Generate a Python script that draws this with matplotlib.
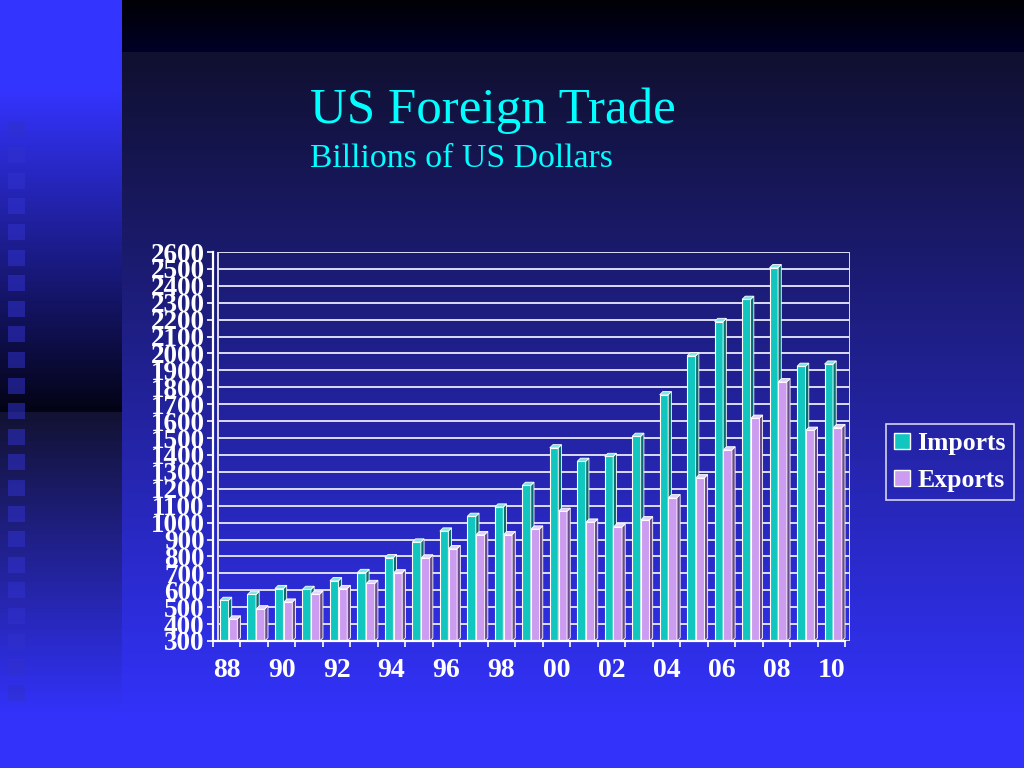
import numpy as np
import matplotlib
matplotlib.use("Agg")
import matplotlib.pyplot as plt
from matplotlib.patches import Polygon
from matplotlib.lines import Line2D

# ---------------- data ----------------
years = ["88", "89", "90", "91", "92", "93", "94", "95", "96", "97", "98", "99",
         "00", "01", "02", "03", "04", "05", "06", "07", "08", "09", "10"]
imports = [540, 575, 610, 605, 656, 705, 793, 885, 950, 1037, 1092, 1220,
           1442, 1362, 1391, 1510, 1756, 1986, 2189, 2320, 2507, 1924, 1937]
exports = [430, 490, 530, 577, 610, 640, 703, 791, 846, 929, 929, 962,
           1067, 1003, 974, 1017, 1147, 1265, 1430, 1617, 1833, 1546, 1562]
series_names = ["Imports", "Exports"]
y_ticks = list(range(300, 2700, 100))

FONT = "Liberation Serif"
W, H = 1024, 768
fig = plt.figure(figsize=(W / 100, H / 100), dpi=100)

# ---------------- background ----------------
bg = np.zeros((H, W, 3))


def lerp(c0, c1, t):
    t = np.clip(t, 0, 1)
    return np.array(c0)[None, :] * (1 - t) + np.array(c1)[None, :] * t


col = np.arange(H).astype(float)
right = np.zeros((H, 3))
top = col < 52
right[top] = lerp((0, 0, 5), (0, 0, 40), (col[top] / 52)[:, None])
rest = ~top
right[rest] = lerp((16, 16, 48), (50, 50, 250), ((col[rest] - 52) / 660)[:, None])
left = np.zeros((H, 3))
up = col < 412
left[up] = lerp((52, 52, 255), (3, 3, 20), ((col[up] - 90) / 322)[:, None])
lo = ~up
left[lo] = lerp((18, 18, 50), (50, 50, 250), ((col[lo] - 412) / 300)[:, None])
bg[:, :122, :] = left[:, None, :]
bg[:, 122:, :] = right[:, None, :]
sq_col = np.array((48, 48, 205))
for k in range(23):
    y0 = int(122 + k * 25.6)
    if y0 + 16 > H:
        break
    region = bg[y0:y0 + 16, 8:25, :]
    bg[y0:y0 + 16, 8:25, :] = 0.45 * region + 0.55 * sq_col
fig.figimage(np.clip(bg / 255.0, 0, 1), xo=0, yo=0, origin="upper", zorder=-10)

# ---------------- titles ----------------
fig.text(310 / W, 1 - 123 / H, "US Foreign Trade", color="#00ffff",
         fontsize=36.7, family=FONT, va="baseline", ha="left")
fig.text(310 / W, 1 - 167 / H, "Billions of US Dollars", color="#00ffff",
         fontsize=24.3, family=FONT, va="baseline", ha="left")

# ---------------- axes ----------------
ax = fig.add_axes([213 / W, 1 - 641 / H, 637 / W, 389 / H])
ax.patch.set_alpha(0)
n = len(years)
px = 27.48
xmax = n - 0.5 + 5 / px
ax.set_xlim(-0.5, xmax)
ax.set_ylim(300, 2600)
for s in ax.spines.values():
    s.set_visible(False)

back_x0 = -0.5 + 5 / px
ax.hlines(y_ticks, back_x0, xmax, colors="#dcdcf4", linewidth=1.4, zorder=1)
ax.vlines([back_x0, xmax], 300, 2600, colors="#dcdcf4", linewidth=1.4, zorder=1)
ax.plot([-0.5, -0.5], [300, 2600], color="white", lw=1.6, clip_on=False, zorder=5)
ax.plot([-0.5, n - 0.5], [300, 300], color="white", lw=1.6, clip_on=False, zorder=5)

dx = 3.2 / px
dy = 3.2 * 2300 / 389
bw = 0.31
offsets = [-0.245, 0.075]
colors = [("#12c6c0", "#0a6e6e", "#7fe6e2"), ("#cc9cf0", "#6a4c8a", "#e6d0ff")]
for s_idx, vals in enumerate([imports, exports]):
    front, side, topc = colors[s_idx]
    xs = np.arange(n) + offsets[s_idx]
    ax.bar(xs, np.array(vals) - 300, bottom=300, width=bw, align="edge",
           color=front, edgecolor="white", linewidth=0.8, zorder=3)
    for x0, v in zip(xs, vals):
        x1 = x0 + bw
        ax.add_patch(Polygon([(x1, 300), (x1 + dx, 300 + dy), (x1 + dx, v + dy), (x1, v)],
                             closed=True, facecolor=side, edgecolor="white", lw=0.6, zorder=3))
        ax.add_patch(Polygon([(x0, v), (x0 + dx, v + dy), (x1 + dx, v + dy), (x1, v)],
                             closed=True, facecolor=topc, edgecolor="white", lw=0.6, zorder=3))

ax.set_yticks(y_ticks)
ax.set_yticklabels([str(t) for t in y_ticks])
ax.tick_params(axis="y", colors="white", length=4.5, width=1.2, pad=1.5,
               labelsize=19.5, direction="out")
ax.set_xticks(np.arange(0, n, 2))
ax.set_xticklabels(years[::2])
ax.set_xticks(np.arange(-0.5, n, 1), minor=True)
ax.tick_params(axis="x", which="major", length=0, pad=12, colors="white", labelsize=20)
ax.tick_params(axis="x", which="minor", length=4.5, width=1.2, colors="white", direction="out")
for lab in ax.get_yticklabels() + ax.get_xticklabels():
    lab.set_family(FONT)
    lab.set_fontweight("bold")
    lab.set_color("white")

handles = [Line2D([], [], marker="s", linestyle="none", markersize=11,
                  markerfacecolor=colors[i][0], markeredgecolor="white", markeredgewidth=1.0)
           for i in range(2)]
leg = fig.legend(handles, series_names, loc="upper left",
                 bbox_to_anchor=(886 / W, 1 - 424 / H), frameon=True, fancybox=False,
                 prop={"family": FONT, "weight": "bold", "size": 18.5},
                 handlelength=0.65, handletextpad=0.28, borderpad=0.3, labelspacing=0.55,
                 borderaxespad=0)
leg.get_frame().set_facecolor("none")
leg.get_frame().set_edgecolor("white")
leg.get_frame().set_linewidth(1.2)
for t in leg.get_texts():
    t.set_color("white")

fig.savefig("out.png", dpi=100)
